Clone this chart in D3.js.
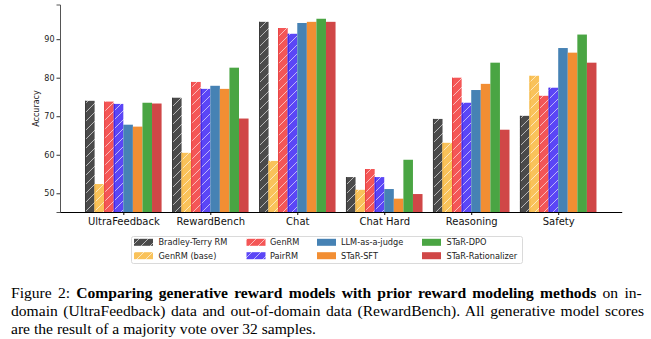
<!DOCTYPE html>
<html><head><meta charset="utf-8">
<script src="https://cdn.jsdelivr.net/npm/d3@7"></script>
<style>html,body{margin:0;padding:0;background:#fff;}svg{display:block;}</style>
</head><body>
<script>
const categories = ["UltraFeedback","RewardBench","Chat","Chat Hard","Reasoning","Safety"];
const seriesNames = ["Bradley-Terry RM","GenRM (base)","GenRM","PairRM","LLM-as-a-judge","STaR-SFT","STaR-DPO","STaR-Rationalizer"];
const bradleyTerry = [74.0, 74.8, 94.5, 54.2, 69.3, 70.1];
const genrmBase    = [52.4, 60.5, 58.4, 50.9, 63.1, 80.5];
const genrm        = [73.8, 78.9, 92.9, 56.3, 80.0, 75.3];
const pairrm       = [73.2, 77.1, 91.4, 54.2, 73.5, 77.4];
const llmJudge     = [67.8, 77.9, 94.2, 51.1, 76.8, 87.7];
const starSFT      = [67.3, 77.1, 94.5, 48.6, 78.4, 86.5];
const starDPO      = [73.5, 82.6, 95.3, 58.7, 83.9, 91.2];
const starRat      = [73.3, 69.4, 94.5, 49.8, 66.5, 83.9];
const yTicks = [50, 60, 70, 80, 90];
const seriesValues = [bradleyTerry, genrmBase, genrm, pairrm, llmJudge, starSFT, starDPO, starRat];

const colors = ["#4a4a4a","#f9c25a","#f45656","#5b46f6","#4682b4","#f28e33","#4aa543","#d04747"];
const edgeColors = ["#3a3a3a","#f5b640","#e84040","#3a22e6",null,null,null,null];
const hatched = [true,true,true,true,false,false,false,false];

const W = 651, H = 339;
const svg = d3.select("body").append("svg").attr("width", W).attr("height", H);
const defs = svg.append("defs");
colors.forEach((c, i) => {
  if (!hatched[i]) return;
  const p = defs.append("pattern").attr("id", "h" + i).attr("patternUnits", "userSpaceOnUse")
    .attr("width", 9).attr("height", 9);
  p.append("rect").attr("width", 9).attr("height", 9).attr("fill", c);
  p.append("path").attr("d", "M-1,10 L10,-1 M-2,2 L2,-2 M7,11 L11,7")
    .attr("stroke", "rgba(255,255,255,0.6)").attr("stroke-width", 1);
});

const x = d3.scaleLinear().domain([-0.728, 5.73]).range([60, 621.7]);
const y = d3.scaleLinear().domain([45.14, 99]).range([212, 4.5]);
const bw = 0.11;

const g = svg.append("g");
seriesValues.forEach((vals, j) => {
  g.selectAll(null).data(vals).enter().append("rect")
    .attr("x", (d, i) => x(i + (j - 4) * bw))
    .attr("width", x(bw) - x(0))
    .attr("y", d => y(d))
    .attr("height", d => y.range()[0] - y(d))
    .attr("fill", hatched[j] ? `url(#h${j})` : colors[j]);
  if (edgeColors[j]) {
    g.selectAll(null).data(vals).enter().append("line")
      .attr("x1", (d, i) => x(i + (j - 4) * bw) + 0.5)
      .attr("x2", (d, i) => x(i + (j - 4) * bw) + 0.5)
      .attr("y1", d => y(d)).attr("y2", y.range()[0])
      .attr("stroke", edgeColors[j]).attr("stroke-width", 1);
  }
});

// y axis
const yAxis = svg.append("g").attr("transform", "translate(60,0)")
  .call(d3.axisLeft(y).tickValues(yTicks).tickSize(3.5).tickPadding(2));
yAxis.select(".domain").attr("stroke", "#555").attr("stroke-width", 1);
yAxis.selectAll(".tick line").attr("stroke", "#333");
yAxis.selectAll("text").attr("font-family", "DejaVu Sans").attr("font-size", 8).attr("fill", "#222");

// x axis
const xAxis = svg.append("g").attr("transform", "translate(0,212)")
  .call(d3.axisBottom(x).tickValues(d3.range(categories.length)).tickFormat(i => categories[i]).tickSize(3).tickPadding(3).tickSizeOuter(0));
xAxis.select(".domain").attr("stroke", "#000").attr("stroke-width", 1.2);
xAxis.selectAll(".tick line").attr("stroke", "#000");
xAxis.selectAll("text").attr("font-family", "DejaVu Sans").attr("font-size", 10).attr("fill", "#111");

svg.append("text").attr("transform", "translate(39,108.5) rotate(-90)")
  .attr("text-anchor", "middle").attr("font-family", "DejaVu Sans").attr("font-size", 8)
  .attr("fill", "#222").text("Accuracy");

// legend
const leg = svg.append("g");
leg.append("rect").attr("x", 131.5).attr("y", 236.5).attr("width", 391).attr("height", 27)
  .attr("rx", 2).attr("fill", "#fff").attr("stroke", "#d0d0d0").attr("stroke-width", 0.8);
const patchX = [134, 246.5, 317, 422];
const textX = [158.5, 270, 341, 446.5];
const rowY = [242.3, 255.7];
seriesNames.forEach((name, k) => {
  const col = Math.floor(k / 2), row = k % 2;
  leg.append("rect").attr("x", patchX[col]).attr("y", rowY[row] - 3.5).attr("width", 19).attr("height", 7)
    .attr("fill", hatched[k] ? `url(#h${k})` : colors[k]);
  leg.append("text").attr("x", textX[col]).attr("y", rowY[row] + 3)
    .attr("font-family", "DejaVu Sans").attr("font-size", 8.2).attr("fill", "#222").text(name);
});

// caption
const cap = svg.append("g").attr("font-family", "Liberation Serif").attr("font-size", 15.6).attr("fill", "#000");
function capLine(parts, yPos, justify) {
  const t = cap.append("text").attr("x", 11).attr("y", yPos);
  parts.forEach(p => t.append("tspan").attr("font-weight", p[1] ? "bold" : "normal").text(p[0]));
  if (justify) {
    const natural = t.node().getComputedTextLength();
    const full = parts.map(p => p[0]).join("");
    const spaces = (full.match(/ /g) || []).length;
    const extra = (644 - 11 - natural) / spaces;
    t.attr("word-spacing", extra);
  }
}
capLine([["Figure 2:  ", false], ["Comparing generative reward models with prior reward modeling methods", true], [" on in-", false]], 298, true);
capLine([["domain (UltraFeedback) data and out-of-domain data (RewardBench). All generative model scores", false]], 316, true);
capLine([["are the result of a majority vote over 32 samples.", false]], 334, false);
</script>
</body></html>
